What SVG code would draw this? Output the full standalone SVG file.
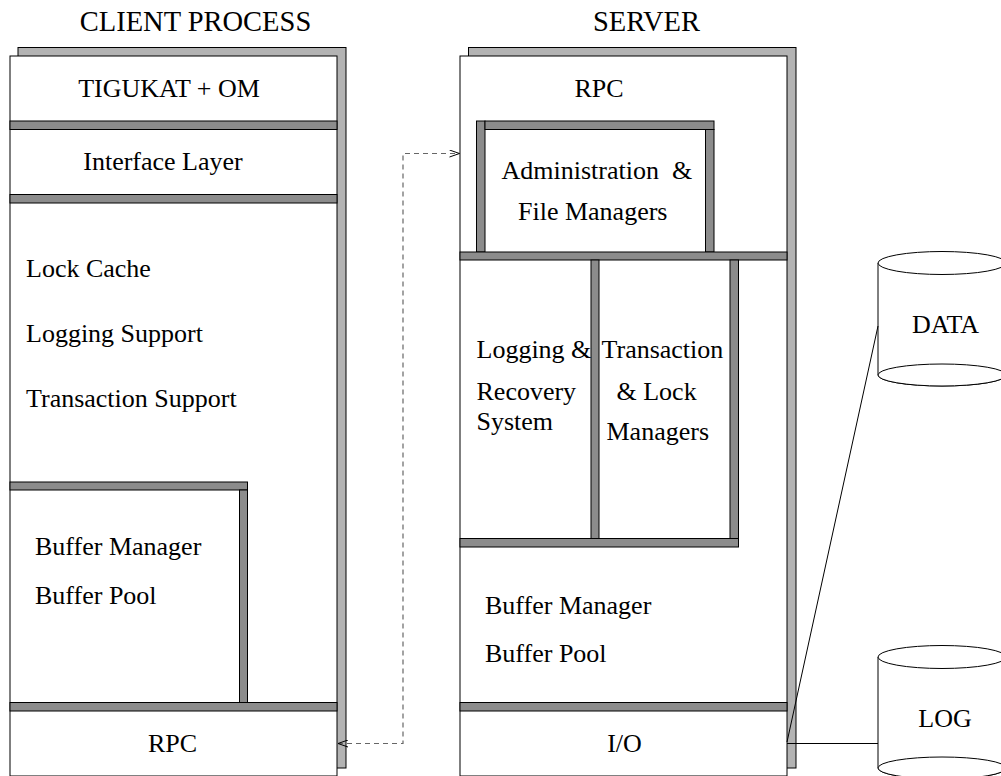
<svg xmlns="http://www.w3.org/2000/svg" width="1001" height="776" viewBox="0 0 1001 776">
  <style>
    .shadow { fill: #b3b3b3; stroke: #000; stroke-width: 1; }
    .panel { fill: #fff; stroke: #000; stroke-width: 1; }
    .bar { fill: #8c8c8c; stroke: #000; stroke-width: 1; }
    .t { font-family: "Liberation Serif", "Times New Roman", serif; font-size: 26px; fill: #000; }
    .title { font-family: "Liberation Serif", "Times New Roman", serif; font-size: 28.5px; fill: #000; }
    .mid { text-anchor: middle; }
    .wire { fill: none; stroke: #000; stroke-width: 1; }
    .dash { fill: none; stroke: #666; stroke-width: 1.2; stroke-dasharray: 5 4; }
    .cyl { fill: #fff; stroke: #000; stroke-width: 1; }
  </style>
  <defs>
    <marker id="openHead" viewBox="0 0 12 8" refX="11" refY="4" markerWidth="12" markerHeight="8" markerUnits="userSpaceOnUse" orient="auto-start-reverse">
      <path d="M1,0.5 L11,4 L1,7.5" fill="none" stroke="#000" stroke-width="1"/>
    </marker>
  </defs>

  <rect width="1001" height="776" fill="#fff"/>

  <!-- titles -->
  <text class="title mid" x="195.5" y="31">CLIENT PROCESS</text>
  <text class="title mid" x="646.5" y="31">SERVER</text>

  <!-- client process stack -->
  <g id="client">
    <rect class="shadow" x="18" y="47.5" width="328" height="720.5"/>
    <rect class="panel" x="10" y="56" width="327" height="720"/>
    <rect class="bar" x="10" y="121" width="327" height="8.5"/>
    <rect class="bar" x="10" y="194.5" width="327" height="8.5"/>
    <rect class="bar" x="10" y="482" width="237.5" height="8"/>
    <rect class="bar" x="239.5" y="490" width="8" height="212.5"/>
    <rect class="bar" x="10" y="702.5" width="327" height="8.5"/>
  </g>
  <g id="client-om"><text class="t mid" x="169" y="96.5">TIGUKAT + OM</text></g>
  <g id="client-interface"><text class="t mid" x="163" y="170">Interface Layer</text></g>
  <g id="client-support">
    <text class="t" x="26" y="277">Lock Cache</text>
    <text class="t" x="26" y="342">Logging Support</text>
    <text class="t" x="26" y="407">Transaction Support</text>
  </g>
  <g id="client-buffer">
    <text class="t" x="35" y="555">Buffer Manager</text>
    <text class="t" x="35" y="604">Buffer Pool</text>
  </g>
  <g id="client-rpc"><text class="t mid" x="172.5" y="751.5">RPC</text></g>

  <!-- server stack -->
  <g id="server">
    <rect class="shadow" x="468.5" y="47.5" width="327.5" height="720.5"/>
    <rect class="panel" x="460" y="56" width="327" height="720"/>
    <rect class="bar" x="476.5" y="121" width="8.5" height="131"/>
    <rect class="bar" x="485" y="121" width="229" height="8.5"/>
    <rect class="bar" x="705.5" y="129.5" width="8.5" height="122.5"/>
    <rect class="bar" x="460" y="252" width="327" height="8"/>
    <rect class="bar" x="591" y="260" width="8" height="278.5"/>
    <rect class="bar" x="730" y="260" width="8.5" height="278.5"/>
    <rect class="bar" x="460" y="538.5" width="278.5" height="8.5"/>
    <rect class="bar" x="460" y="702.5" width="327" height="8.5"/>
  </g>
  <g id="server-rpc"><text class="t mid" x="599" y="96.5">RPC</text></g>
  <g id="server-admin">
    <text class="t" x="501.5" y="178.5" xml:space="preserve">Administration  &amp;</text>
    <text class="t" x="518" y="219.5">File Managers</text>
  </g>
  <g id="server-logging">
    <text class="t" x="476.5" y="358">Logging &amp;</text>
    <text class="t" x="476.5" y="400">Recovery</text>
    <text class="t" x="476.5" y="430">System</text>
  </g>
  <g id="server-transaction">
    <text class="t" x="601.5" y="358">Transaction</text>
    <text class="t" x="616.5" y="400">&amp; Lock</text>
    <text class="t" x="606.5" y="440">Managers</text>
  </g>
  <g id="server-buffer">
    <text class="t" x="485" y="613.5">Buffer Manager</text>
    <text class="t" x="485" y="662">Buffer Pool</text>
  </g>
  <g id="server-io"><text class="t mid" x="624.5" y="751.5">I/O</text></g>

  <!-- storage -->
  <g id="data">
    <path class="cyl" d="M878,263 V375 A64,11 0 0 0 1006,375 V263 Z"/>
    <ellipse class="cyl" cx="942" cy="263" rx="64" ry="11.5"/>
    <ellipse class="cyl" cx="942" cy="375" rx="64" ry="11"/>
    <text class="t mid" x="945.5" y="333">DATA</text>
  </g>
  <g id="log">
    <path class="cyl" d="M878,657 V768 A64,11 0 0 0 1006,768 V657 Z"/>
    <ellipse class="cyl" cx="942" cy="657" rx="64" ry="11.5"/>
    <ellipse class="cyl" cx="942" cy="768" rx="64" ry="11"/>
    <text class="t mid" x="945" y="727">LOG</text>
  </g>

  <!-- connectors -->
  <g id="connectors">
    <path class="dash" d="M338,743.5 H403 V153.5 H459.5" marker-start="url(#openHead)" marker-end="url(#openHead)"/>
    <line class="wire" x1="787" y1="743.5" x2="878" y2="743.5"/>
    <line class="wire" x1="787" y1="742" x2="878" y2="326"/>
  </g>
</svg>
